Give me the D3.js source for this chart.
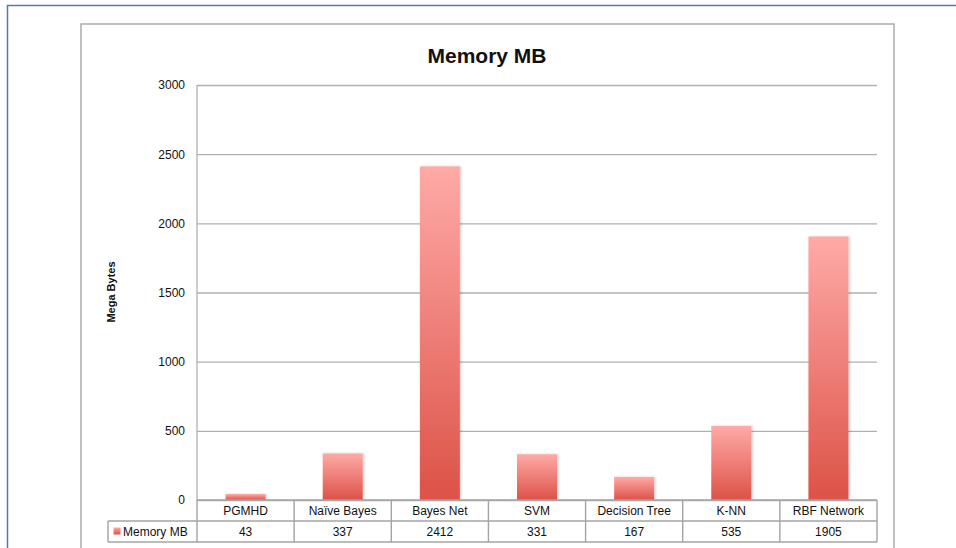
<!DOCTYPE html>
<html>
<head>
<meta charset="utf-8">
<script src="https://cdn.jsdelivr.net/npm/d3@7"></script>
<style>
  html, body { margin: 0; padding: 0; background: #fff; overflow: hidden; }
  text { font-family: "Liberation Sans", Arial, sans-serif; fill: #111; }
</style>
</head>
<body>
<div id="mount"></div>
<script>
var WIDTH = 956;
var HEIGHT = 548;

var categories = ['PGMHD', 'Naïve Bayes', 'Bayes Net', 'SVM', 'Decision Tree', 'K-NN', 'RBF Network'];
var memoryMB = [43, 337, 2412, 331, 167, 535, 1905];
var yTicks = [0, 500, 1000, 1500, 2000, 2500, 3000];
var seriesName = 'Memory MB';

var plot = { left: 197, right: 877, top: 85, bottom: 500 };
var rowH = 21;

var $svg = d3.select('#mount')
  .append('svg')
  .attr('width', WIDTH)
  .attr('height', HEIGHT);

var defs = $svg.append('defs');
var grad = defs.append('linearGradient')
  .attr('id', 'barGrad')
  .attr('x1', 0).attr('y1', 0).attr('x2', 0).attr('y2', 1);
grad.append('stop').attr('offset', '0%').attr('stop-color', '#ffaaa7');
grad.append('stop').attr('offset', '100%').attr('stop-color', '#dc5247');

var shadow = defs.append('filter').attr('id', 'shadow')
  .attr('x', '-20%').attr('y', '-5%').attr('width', '150%').attr('height', '110%');
shadow.append('feDropShadow')
  .attr('dx', 1.5).attr('dy', 0).attr('stdDeviation', 1.2)
  .attr('flood-color', '#000').attr('flood-opacity', 0.18);

// outer frame + chart box
$svg.append('rect')
  .attr('x', 7.5).attr('y', 5.5).attr('width', 1000).attr('height', 600)
  .attr('fill', 'none').attr('stroke', '#5a7aa6').attr('stroke-width', 1.5);
$svg.append('rect')
  .attr('x', 81).attr('y', 24).attr('width', 813).attr('height', 600)
  .attr('fill', '#fff').attr('stroke', '#acacac').attr('stroke-width', 1.5);

var x = d3.scaleBand()
  .domain(categories)
  .range([plot.left, plot.right])
  .paddingInner(0).paddingOuter(0);

var y = d3.scaleLinear()
  .domain([0, 3000])
  .range([plot.bottom, plot.top]);

// gridlines + y labels
var yAxis = d3.axisLeft(y)
  .tickValues(yTicks)
  .tickSize(-(plot.right - plot.left))
  .tickPadding(12)
  .tickFormat(d3.format('d'));

var $y = $svg.append('g')
  .attr('transform', 'translate(' + plot.left + ',0)')
  .call(yAxis);
$y.select('.domain').remove();
$y.selectAll('.tick line').attr('stroke', '#b0b0b0').attr('stroke-width', 1.3);
$y.selectAll('.tick text')
  .style('font-size', '12px')
  .style('font-family', '"Liberation Sans", Arial, sans-serif')
  .attr('fill', '#111');

// vertical axis line
$svg.append('line')
  .attr('x1', plot.left).attr('x2', plot.left)
  .attr('y1', plot.top).attr('y2', plot.bottom)
  .attr('stroke', '#b0b0b0').attr('stroke-width', 1.3);

// bars
var barW = 40;
$svg.append('g').selectAll('rect')
  .data(memoryMB)
  .enter()
  .append('rect')
  .attr('x', function (d, i) { return x(categories[i]) + x.bandwidth() / 2 - barW / 2; })
  .attr('y', function (d) { return y(d); })
  .attr('width', barW)
  .attr('height', function (d) { return y(0) - y(d); })
  .attr('fill', 'url(#barGrad)')
  .attr('filter', 'url(#shadow)');

// data table
var tableLeft = 108;
var $t = $svg.append('g')
  .attr('stroke', '#a4a4a4').attr('stroke-width', 1.4).attr('fill', 'none');
$t.append('line').attr('x1', plot.left).attr('x2', plot.right)
  .attr('y1', plot.bottom).attr('y2', plot.bottom);
$t.append('line').attr('x1', tableLeft).attr('x2', plot.right)
  .attr('y1', plot.bottom + rowH).attr('y2', plot.bottom + rowH);
$t.append('line').attr('x1', tableLeft).attr('x2', plot.right)
  .attr('y1', plot.bottom + 2 * rowH).attr('y2', plot.bottom + 2 * rowH);
$t.append('line').attr('x1', tableLeft).attr('x2', tableLeft)
  .attr('y1', plot.bottom + rowH).attr('y2', plot.bottom + 2 * rowH);
var edges = categories.map(function (c) { return x(c); }).concat([plot.right]);
$t.selectAll('.col')
  .data(edges)
  .enter()
  .append('line')
  .attr('x1', function (d) { return d; }).attr('x2', function (d) { return d; })
  .attr('y1', plot.bottom).attr('y2', plot.bottom + 2 * rowH);

$svg.append('g').selectAll('text')
  .data(categories)
  .enter()
  .append('text')
  .attr('x', function (d) { return x(d) + x.bandwidth() / 2; })
  .attr('y', plot.bottom + 15)
  .attr('text-anchor', 'middle')
  .style('font-size', '12px')
  .text(function (d) { return d; });

$svg.append('g').selectAll('text')
  .data(memoryMB)
  .enter()
  .append('text')
  .attr('x', function (d, i) { return x(categories[i]) + x.bandwidth() / 2; })
  .attr('y', plot.bottom + rowH + 15)
  .attr('text-anchor', 'middle')
  .style('font-size', '12px')
  .text(function (d) { return d; });

// legend key in table
$svg.append('rect')
  .attr('x', 113.5).attr('y', 527.5).attr('width', 7).attr('height', 7)
  .attr('fill', 'url(#barGrad)');
$svg.append('text')
  .attr('x', 123).attr('y', plot.bottom + rowH + 15)
  .style('font-size', '12px')
  .text(seriesName);

// title + axis title
$svg.append('text')
  .attr('x', 487).attr('y', 63)
  .attr('text-anchor', 'middle')
  .style('font-size', '21px')
  .style('font-weight', 'bold')
  .text('Memory MB');

$svg.append('text')
  .attr('transform', 'translate(115,292) rotate(-90)')
  .attr('text-anchor', 'middle')
  .style('font-size', '11px')
  .style('font-weight', 'bold')
  .text('Mega Bytes');
</script>
</body>
</html>
